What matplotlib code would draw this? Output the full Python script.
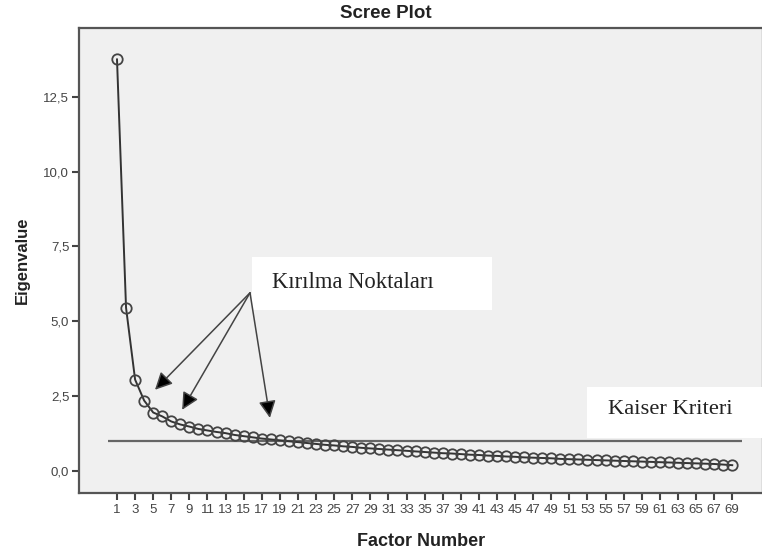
import matplotlib
matplotlib.use("Agg")
from matplotlib import pyplot as plt
from matplotlib.patches import Rectangle
from matplotlib.ticker import FuncFormatter

# eigenvalues, factors 1..69
factors = list(range(1, 70))
eigenvalues = [
    13.75, 5.45, 3.05, 2.35, 1.95, 1.82, 1.65, 1.55, 1.48, 1.40,
    1.35, 1.30, 1.26, 1.20, 1.16, 1.12, 1.08, 1.05, 1.02, 0.99,
    0.96, 0.93, 0.90, 0.87, 0.85, 0.82, 0.80, 0.77, 0.75, 0.73,
    0.71, 0.69, 0.67, 0.65, 0.63, 0.61, 0.59, 0.58, 0.56, 0.54,
    0.53, 0.51, 0.50, 0.48, 0.47, 0.45, 0.44, 0.43, 0.42, 0.40,
    0.39, 0.38, 0.37, 0.36, 0.35, 0.34, 0.33, 0.32, 0.31, 0.30,
    0.29, 0.28, 0.27, 0.26, 0.25, 0.24, 0.23, 0.21, 0.19,
]
kaiser_value = 1.0
y_ticks = [0.0, 2.5, 5.0, 7.5, 10.0, 12.5]
x_ticks = list(range(1, 70, 2))

W, H = 762, 549
fig = plt.figure(figsize=(W / 100, H / 100), dpi=100)
left, right, top, bottom = 79, 763, 28, 493
ax = fig.add_axes([left / W, 1 - bottom / H, (right - left) / W, (bottom - top) / H])
ax.set_facecolor("#f0f0f0")


def px(x, y):
    # pixel position -> axes fraction
    return (x - left) / (right - left), (bottom - y) / (bottom - top)


ax.plot(factors, eigenvalues, color="#333333", lw=1.4, marker="o", ms=7.5,
        mfc="none", mec="#444444", mew=1.3, zorder=3)
ax.hlines(kaiser_value, 0, 70.1, color="#666666", lw=1.6, zorder=2)

ax.set_xlim(-3.2, 72.4)
ax.set_ylim(-0.74, 14.8)
ax.set_xticks(x_ticks)
ax.set_yticks(y_ticks)
ax.yaxis.set_major_formatter(FuncFormatter(lambda v, _: f"{v:.1f}".replace(".", ",")))
ax.tick_params(direction="out", length=5, width=1.5, color="#444444",
               labelsize=9.5, labelcolor="#444444", pad=2)
ax.tick_params(axis="x", labelsize=9.5, pad=3)
for lab in ax.get_xticklabels() + ax.get_yticklabels():
    lab.set_fontfamily("Liberation Sans")
for s in ax.spines.values():
    s.set_color("#555555")
    s.set_linewidth(1.6)

ax.set_ylabel("Eigenvalue", fontsize=12, fontweight="bold", family="Liberation Sans",
              color="#222222", labelpad=10)
ax.set_xlabel("Factor Number", fontsize=13, fontweight="bold", family="Liberation Sans",
              color="#222222", labelpad=12)
fig.text(386 / W, 1 - 14 / H, "Scree Plot", ha="center", va="center", fontsize=13.5,
         fontweight="bold", family="Liberation Sans", color="#222222")

# white annotation boxes
x0, y0 = px(252, 310)
x1, y1 = px(492, 257)
ax.add_patch(Rectangle((x0, y0), x1 - x0, y1 - y0, transform=ax.transAxes,
                       facecolor="white", edgecolor="none", zorder=4))
tx, ty = px(272, 283)
ax.text(tx, ty, "Kırılma Noktaları", transform=ax.transAxes, ha="left", va="center",
        fontsize=16.3, family="Liberation Serif", color="#222222", zorder=5)

x0, y0 = px(587, 438)
x1, y1 = px(765, 387)
ax.add_patch(Rectangle((x0, y0), x1 - x0, y1 - y0, transform=ax.transAxes,
                       facecolor="white", edgecolor="none", zorder=4, clip_on=False))
tx, ty = px(608, 410)
ax.text(tx, ty, "Kaiser Kriteri", transform=ax.transAxes, ha="left", va="center",
        fontsize=16.2, family="Liberation Serif", color="#222222", zorder=5)

# arrows to the break points
origin = (15.7, 5.95)
for tip in [(5.2, 2.71), (8.2, 2.04), (17.9, 1.77)]:
    ax.annotate("", xy=tip, xytext=origin,
                arrowprops=dict(arrowstyle="-|>", color="#444444", lw=1.1,
                                mutation_scale=26, shrinkA=0, shrinkB=0,
                                fc="black"), zorder=6)

fig.savefig("out.png", dpi=100)
